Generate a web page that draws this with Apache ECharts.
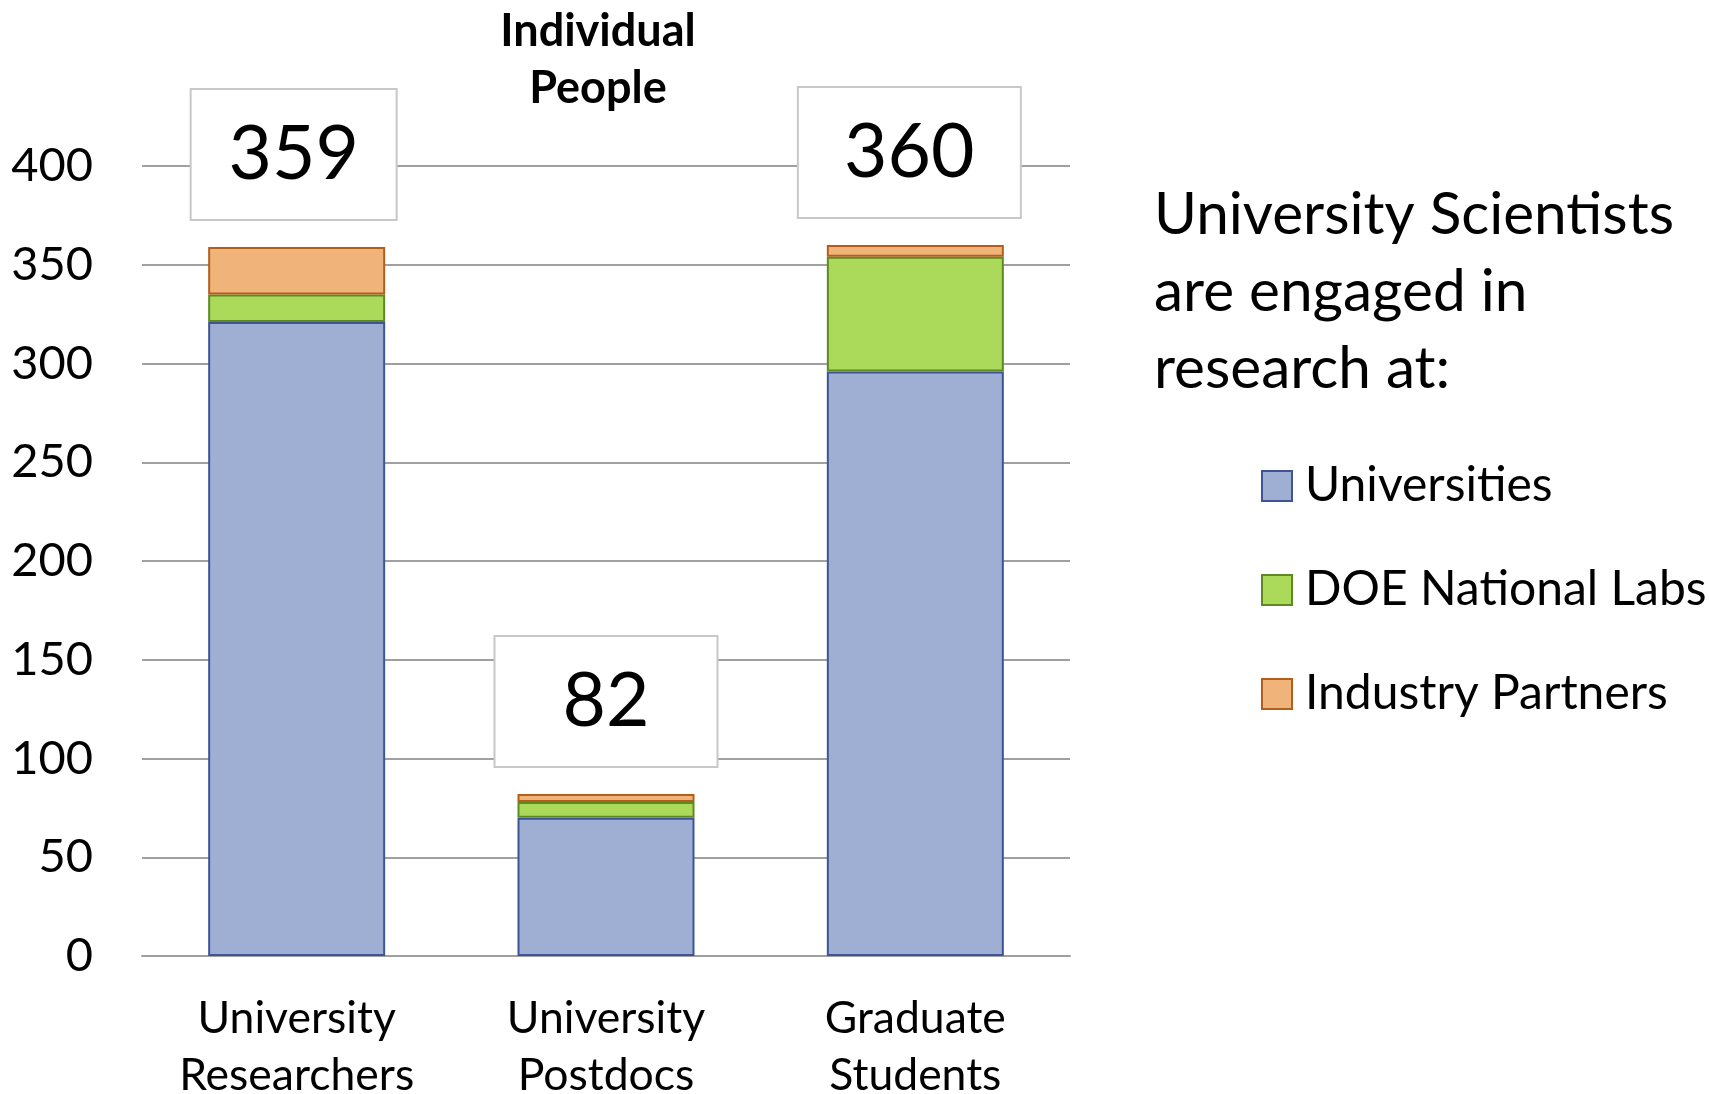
<!DOCTYPE html>
<html>
<head>
<meta charset="utf-8">
<script src="https://cdn.jsdelivr.net/npm/echarts@6/dist/echarts.min.js"></script>
<style>html,body{margin:0;padding:0;background:#fff;}#c{width:1709px;height:1094px;}</style>
</head>
<body>
<div id="c"></div>
<script>
var categories = ['University\nResearchers', 'University\nPostdocs', 'Graduate\nStudents'];
var universities = [321, 70, 296];
var doeLabs = [14, 8, 58];
var industry = [24, 4, 6];
var yTicks = [0, 50, 100, 150, 200, 250, 300, 350, 400];

// styling of the total boxes (not data)
var boxWidths = [204, 221, 221];
var boxOffsets = [-3, 0, -6];

var FONT = 'Lato, "Open Sans", sans-serif';
var chart = echarts.init(document.getElementById('c'), null, {renderer: 'canvas'});

function total(i) { return universities[i] + doeLabs[i] + industry[i]; }

var industryData = industry.map(function (v, i) {
  return {value: v, label: {width: boxWidths[i], offset: [boxOffsets[i], 0]}};
});

var option = {
  backgroundColor: '#ffffff',
  animation: false,
  textStyle: {fontFamily: FONT, color: '#000'},
  title: [
    {
      text: 'Individual\nPeople',
      left: 593, top: -2, textAlign: 'center',
      textStyle: {fontFamily: FONT, fontWeight: 'bold', fontSize: 45, lineHeight: 57, color: '#000'}
    },
    {
      text: 'University Scientists\nare engaged in\nresearch at:',
      left: 1149, top: 172,
      textStyle: {fontFamily: FONT, fontWeight: 'normal', fontSize: 58.5, lineHeight: 77, color: '#000'}
    }
  ],
  legend: {
    orient: 'vertical',
    left: 1256, top: 457,
    itemWidth: 30, itemHeight: 30, itemGap: 56,
    icon: 'rect',
    textStyle: {fontFamily: FONT, fontSize: 48, color: '#000', padding: [0, 0, 0, 8]},
    data: ['Universities', 'DOE National Labs', 'Industry Partners']
  },
  grid: {left: 142, right: 639, top: 166, bottom: 138, containLabel: false, outerBoundsMode: 'none'},
  xAxis: {
    type: 'category',
    data: categories,
    axisLine: {show: true, lineStyle: {color: '#a0a0a0', width: 2}},
    axisTick: {show: false},
    axisLabel: {fontFamily: FONT, fontSize: 44.5, lineHeight: 57, color: '#000', margin: 34, interval: 0}
  },
  yAxis: {
    type: 'value',
    min: 0, max: 400, interval: 50,
    axisLine: {show: false},
    axisTick: {show: false},
    splitLine: {lineStyle: {color: '#a0a0a0', width: 2}},
    axisLabel: {fontFamily: FONT, fontSize: 47, color: '#000', margin: 49,
      formatter: function (v) { return yTicks.indexOf(v) >= 0 ? String(v) : ''; }}
  },
  series: [
    {
      name: 'Universities', type: 'bar', stack: 'all', barWidth: 177,
      data: universities,
      itemStyle: {color: '#9FAED3', borderColor: '#3F5496', borderWidth: 2}
    },
    {
      name: 'DOE National Labs', type: 'bar', stack: 'all', barWidth: 177,
      data: doeLabs,
      itemStyle: {color: '#ABDA5A', borderColor: '#5E8A22', borderWidth: 2}
    },
    {
      name: 'Industry Partners', type: 'bar', stack: 'all', barWidth: 177,
      data: industryData,
      itemStyle: {color: '#F0B47B', borderColor: '#B55E1A', borderWidth: 2},
      label: {
        show: true, position: 'top', distance: 28,
        formatter: function (p) { return String(total(p.dataIndex)); },
        fontFamily: FONT, fontSize: 75, color: '#000',
        backgroundColor: '#ffffff', borderColor: '#c8c8c8', borderWidth: 2,
        width: 206, height: 129, lineHeight: 129, align: 'center'
      }
    }
  ]
};
chart.setOption(option);
</script>
</body>
</html>
